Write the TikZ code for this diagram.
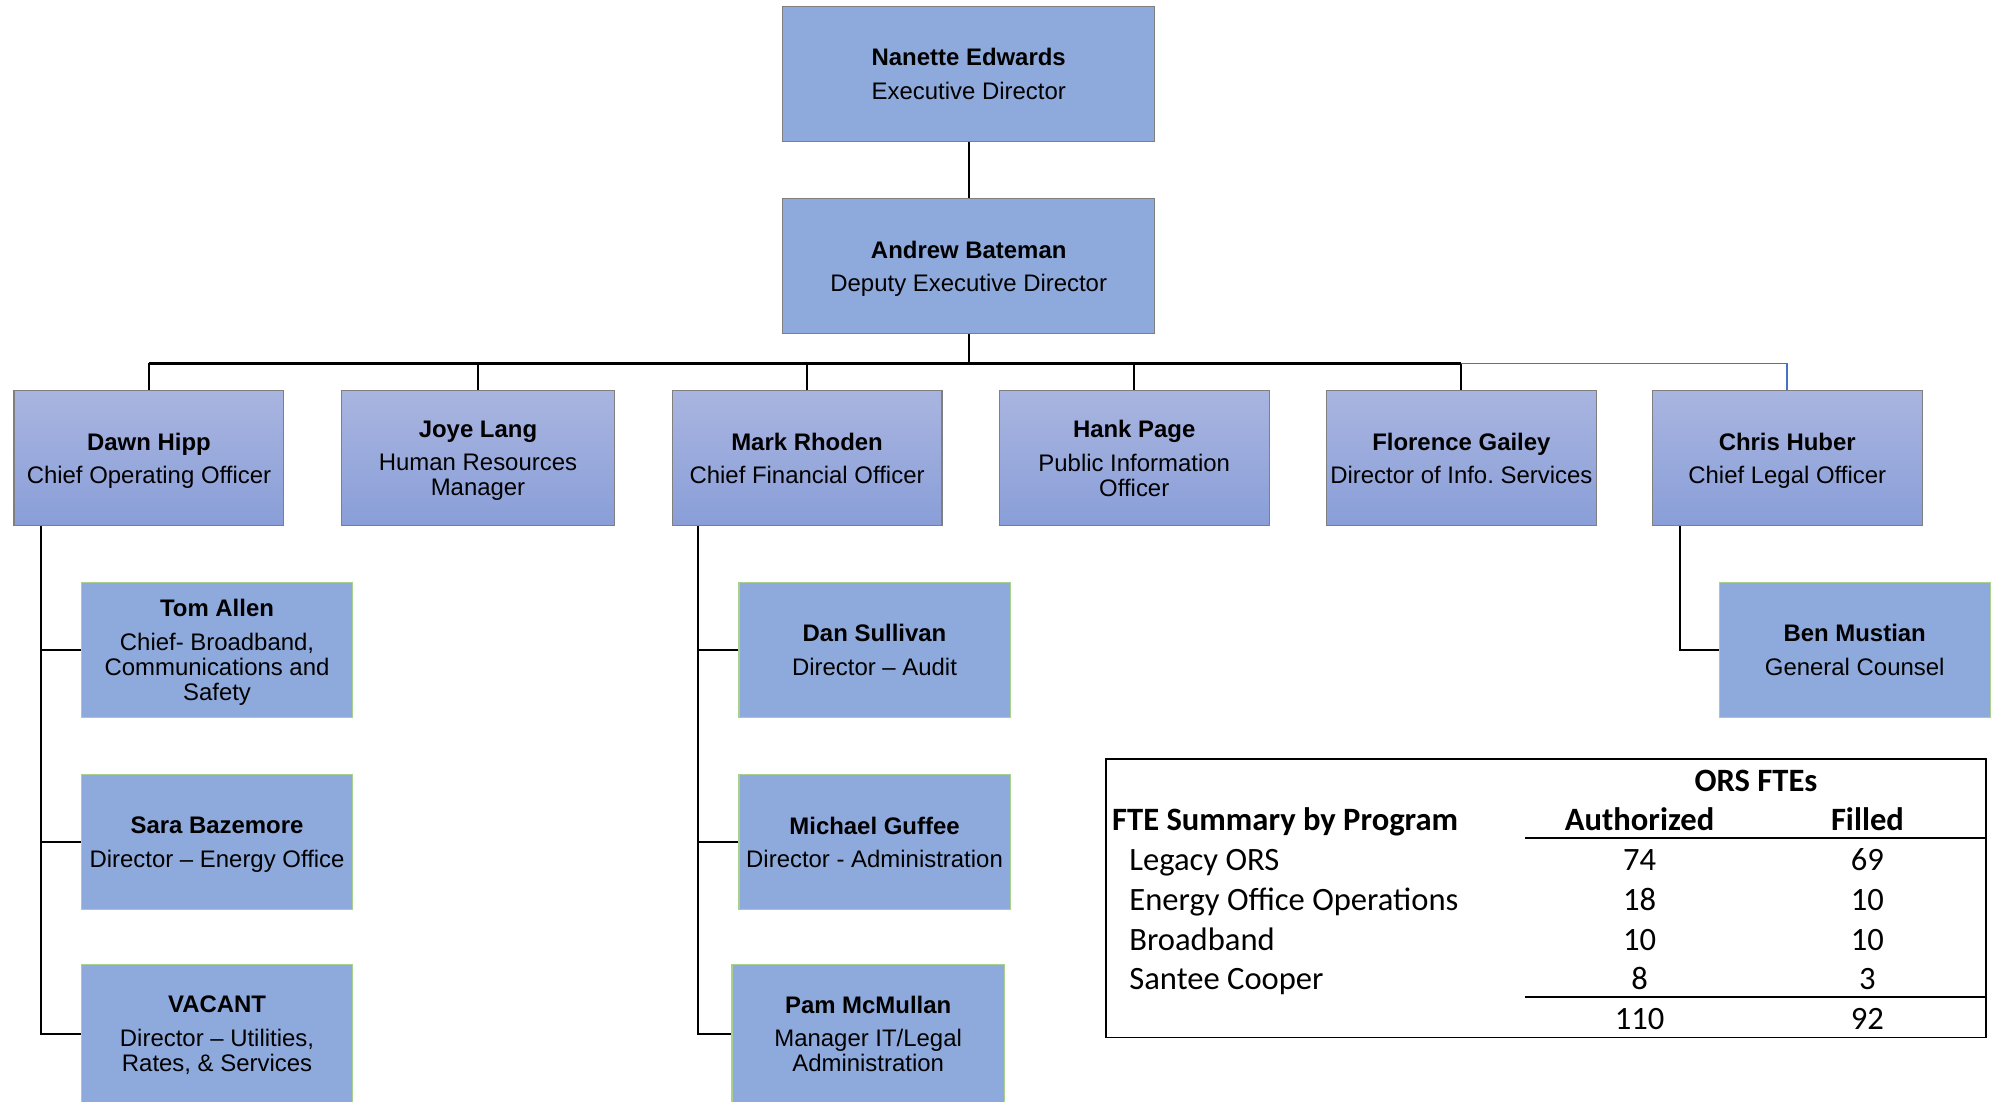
\documentclass[tikz,border=0pt]{standalone}
\usepackage{fontspec}
\setmainfont{Liberation Sans}
\newfontfamily\tabfont{Carlito}
\definecolor{boxblue}{HTML}{8EA9DB}
\definecolor{rowtop}{HTML}{A9B5E0}
\definecolor{rowbot}{HTML}{899ED8}
\definecolor{edgegray}{HTML}{7F7F7F}
\definecolor{edgegreen}{HTML}{A9D18E}
\definecolor{busblue}{HTML}{4472C4}
\newcommand\boxfont{\fontsize{18.8}{19.7}\selectfont}
\newcommand\tabsize{\fontsize{25.6}{30}\selectfont\tabfont}
\newcommand\lastln[1]{\raisebox{0pt}[\height][0pt]{#1}}
\tikzset{
  execbox/.style={draw=edgegray, line width=0.9pt, fill=boxblue, minimum width=292pt,
    minimum height=106pt, inner sep=0pt, align=center, font=\boxfont},
  rowbox/.style={draw=edgegray, line width=0.9pt, top color=rowtop, bottom color=rowbot,
    minimum width=212pt, minimum height=106pt, inner sep=0pt, align=center, font=\boxfont},
  subbox/.style={draw=edgegreen, line width=0.9pt, fill=boxblue, minimum width=213pt,
    minimum height=106pt, inner sep=0pt, align=center, font=\boxfont},
  link/.style={line width=1.6pt, draw=black},
  buslink/.style={line width=2.2pt, draw=black},
  bluelink/.style={line width=1.3pt, draw=busblue},
  tlabel/.style={anchor=base west, inner sep=0pt, font=\tabsize},
  tnum/.style={anchor=base, inner sep=0pt, font=\tabsize},
  thead/.style={anchor=base, inner sep=0pt, font=\tabsize\bfseries},
}
\begin{document}
\begin{tikzpicture}[x=1pt, y=-1pt]
\useasboundingbox (0,0) rectangle (1568,865);
\fill[white] (0,0) rectangle (1568,865);

% top
\node[execbox] (nanette) at (761,58) {\textbf{Nanette Edwards}\\[6.5pt]\lastln{Executive Director}};
\node[execbox] (andrew) at (761,209) {\textbf{Andrew Bateman}\\[6.5pt]\lastln{Deputy Executive Director}};

% row
\node[rowbox] (dawn) at (117,360) {\textbf{Dawn Hipp}\\[6.5pt]\lastln{Chief Operating Officer}};
\node[rowbox, minimum width=215pt] (joye) at (375.5,360) {\textbf{Joye Lang}\\[6.5pt]Human Resources\\\lastln{Manager}};
\node[rowbox] (mark) at (634,360) {\textbf{Mark Rhoden}\\[6.5pt]\lastln{Chief Financial Officer}};
\node[rowbox] (hank) at (891,360) {\textbf{Hank Page}\\[6.5pt]Public Information\\\lastln{Officer}};
\node[rowbox] (florence) at (1148,360) {\textbf{Florence Gailey}\\[6.5pt]\lastln{Director of Info.\ Services}};
\node[rowbox] (chris) at (1404,360) {\textbf{Chris Huber}\\[6.5pt]\lastln{Chief Legal Officer}};

% sub boxes
\node[subbox] (tom) at (170.5,510.5) {\textbf{Tom Allen}\\[6.5pt]Chief- Broadband,\\Communications and\\\lastln{Safety}};
\node[subbox] (sara) at (170.5,661.5) {\textbf{Sara Bazemore}\\[6.5pt]\lastln{Director -- Energy Office}};
\node[subbox, minimum height=108pt] (vacant) at (170.5,812) {\textbf{VACANT}\\[6.5pt]Director -- Utilities,\\\lastln{Rates, \& Services}};
\node[subbox] (dan) at (687,510.5) {\textbf{Dan Sullivan}\\[6.5pt]\lastln{Director -- Audit}};
\node[subbox] (michael) at (687,661.5) {\textbf{Michael Guffee}\\[6.5pt]\lastln{Director - Administration}};
\node[subbox, minimum width=214pt, minimum height=108pt] (pam) at (682,812) {\textbf{Pam McMullan}\\[6.5pt]Manager IT/Legal\\\lastln{Administration}};
\node[subbox] (ben) at (1457,510.5) {\textbf{Ben Mustian}\\[6.5pt]\lastln{General Counsel}};

% connectors
\draw[link] (nanette) -- (andrew);
\coordinate (bus) at (761,285.5);
\draw[link] (andrew.south) -- (bus);
\foreach \n in {dawn,joye,mark,hank,florence}{
  \draw[link] (\n.north) -- (\n.north |- bus);
}
\draw[buslink] (dawn.north |- bus) -- (florence.north |- bus);
\draw[bluelink] (florence.north |- bus) -- (chris.north |- bus) -- (chris.north);

\coordinate (dleg) at ([xshift=22pt]dawn.south west);
\draw[link] (dleg) |- (vacant.west);
\draw[link] (dleg |- tom.west) -- (tom.west);
\draw[link] (dleg |- sara.west) -- (sara.west);

\coordinate (mleg) at ([xshift=21pt]mark.south west);
\draw[link] (mleg) |- (pam.west);
\draw[link] (mleg |- dan.west) -- (dan.west);
\draw[link] (mleg |- michael.west) -- (michael.west);

\coordinate (cleg) at ([xshift=22pt]chris.south west);
\draw[link] (cleg) |- (ben.west);

% table
\draw[line width=1.3pt] (869,596) rectangle (1560,815);
\draw[line width=1.6pt] (1198,658) -- (1560,658);
\draw[line width=1.6pt] (1198,783.5) -- (1560,783.5);
\node[thead] (orsfte) at (1379.5,622) {ORS FTEs};
\node[tlabel, font=\tabsize\bfseries] (fteh) at (873.5,652.5) {FTE Summary by Program};
\node[thead] (auth) at (1288,652.5) {Authorized};
\node[thead] (fill) at (1467,652.5) {Filled};

\node[tlabel] (r1) at (887,684) {Legacy ORS};
\node[tnum] at (1288,684) {74};
\node[tnum] at (1467,684) {69};
\node[tlabel] (r2) at (887,715.3) {Energy Office Operations};
\node[tnum] at (1288,715.3) {18};
\node[tnum] at (1467,715.3) {10};
\node[tlabel] (r3) at (887,746.5) {Broadband};
\node[tnum] at (1288,746.5) {10};
\node[tnum] at (1467,746.5) {10};
\node[tlabel] (r4) at (887,777.6) {Santee Cooper};
\node[tnum] at (1288,777.6) {8};
\node[tnum] at (1467,777.6) {3};
\node[tnum] at (1288,808.5) {110};
\node[tnum] at (1467,808.5) {92};
\end{tikzpicture}
\end{document}
